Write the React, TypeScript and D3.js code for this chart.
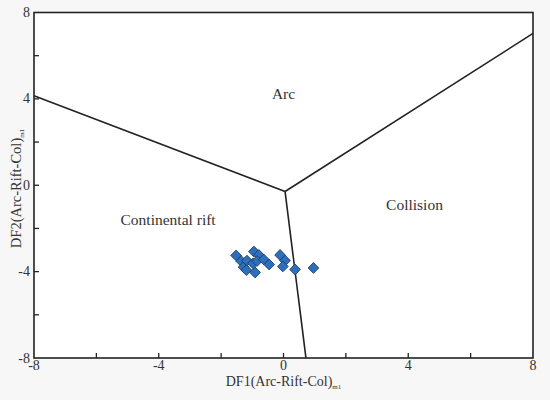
import React from 'react'
import * as d3 from 'd3'

// discriminant diagram samples (DF1, DF2)
const df1 = [-1.52, -1.36, -1.28, -1.17, -1.19, -0.95, -0.98, -0.91, -0.79, -0.85, -0.63, -0.46, -0.11, 0.05, -0.02, 0.37, 0.96]
const df2 = [-3.25, -3.51, -3.79, -3.49, -3.93, -3.07, -3.62, -4.04, -3.23, -3.51, -3.44, -3.67, -3.23, -3.49, -3.76, -3.90, -3.83]

// field boundaries: triple junction and end points
const junction: [number, number] = [0.05, -0.29]
const boundaryEnds: [number, number][] = [[-8, 4.15], [8, 7.03], [0.72, -8]]

const tickValues = [-8, -6, -4, -2, 0, 2, 4, 6, 8]
const labelValues = [-8, -4, 0, 4, 8]

const fields = [
    { name: 'Arc', x: 0, y: 4.0 },
    { name: 'Continental rift', x: -3.7, y: -1.85 },
    { name: 'Collision', x: 4.2, y: -1.15 },
]

const W = 550
const H = 400
const margin = { left: 34, right: 17, top: 12.5, bottom: 42 }

export default function App() {
    const x = d3.scaleLinear().domain([-8, 8]).range([margin.left, W - margin.right])
    const y = d3.scaleLinear().domain([-8, 8]).range([H - margin.bottom, margin.top])
    const line = d3.line<[number, number]>().x(d => x(d[0])).y(d => y(d[1]))
    const font = '"Liberation Serif", "Times New Roman", serif'
    const textColor = '#333'
    const s = 5.4

    return (
        <svg width={W} height={H} style={{ position: 'absolute', left: 0, top: 0, background: '#f7f7f7' }}
            fontFamily={font}>
            <rect x={x(-8)} y={y(8)} width={x(8) - x(-8)} height={y(-8) - y(8)} fill="#fff" />

            {boundaryEnds.map((e, i) => (
                <path key={i} d={line([junction, e]) || ''} stroke="#222" strokeWidth={1.6} fill="none" />
            ))}

            {df1.map((v, i) => (
                <path key={i}
                    d={`M${x(v)},${y(df2[i]) - s}L${x(v) + s},${y(df2[i])}L${x(v)},${y(df2[i]) + s}L${x(v) - s},${y(df2[i])}Z`}
                    fill="#2b6fbd" stroke="#1b3559" strokeWidth={0.8} />
            ))}

            <rect x={x(-8)} y={y(8)} width={x(8) - x(-8)} height={y(-8) - y(8)} fill="none" stroke="#222" strokeWidth={1.6} />

            {tickValues.slice(1, -1).map(t => (
                <g key={t}>
                    <line x1={x(t)} x2={x(t)} y1={y(-8)} y2={y(-8) - 5} stroke="#222" strokeWidth={1.3} />
                    <line x1={x(-8)} x2={x(-8) + 5} y1={y(t)} y2={y(t)} stroke="#222" strokeWidth={1.3} />
                </g>
            ))}

            {labelValues.map(t => (
                <text key={'x' + t} x={x(t)} y={y(-8) + 12} textAnchor="middle" fontSize={14} fill={textColor}>{t}</text>
            ))}
            {labelValues.map(t => (
                <text key={'y' + t} x={x(-8) - 4} y={y(t) + 4.5} textAnchor="end" fontSize={14} fill={textColor}>{t}</text>
            ))}

            {fields.map(f => (
                <text key={f.name} x={x(f.x)} y={y(f.y)} textAnchor="middle" fontSize={15.5} fill={textColor}>{f.name}</text>
            ))}

            <text x={x(0)} y={H - 14} textAnchor="middle" fontSize={14} fill={textColor}>
                DF1(Arc-Rift-Col)<tspan fontSize={7} dy={3}>m1</tspan>
            </text>
            <text transform={`translate(21,${y(-0.15)}) rotate(-90)`} textAnchor="middle" fontSize={14.5} fill={textColor}>
                DF2(Arc-Rift-Col)<tspan fontSize={7} dy={3}>m1</tspan>
            </text>
        </svg>
    )
}
